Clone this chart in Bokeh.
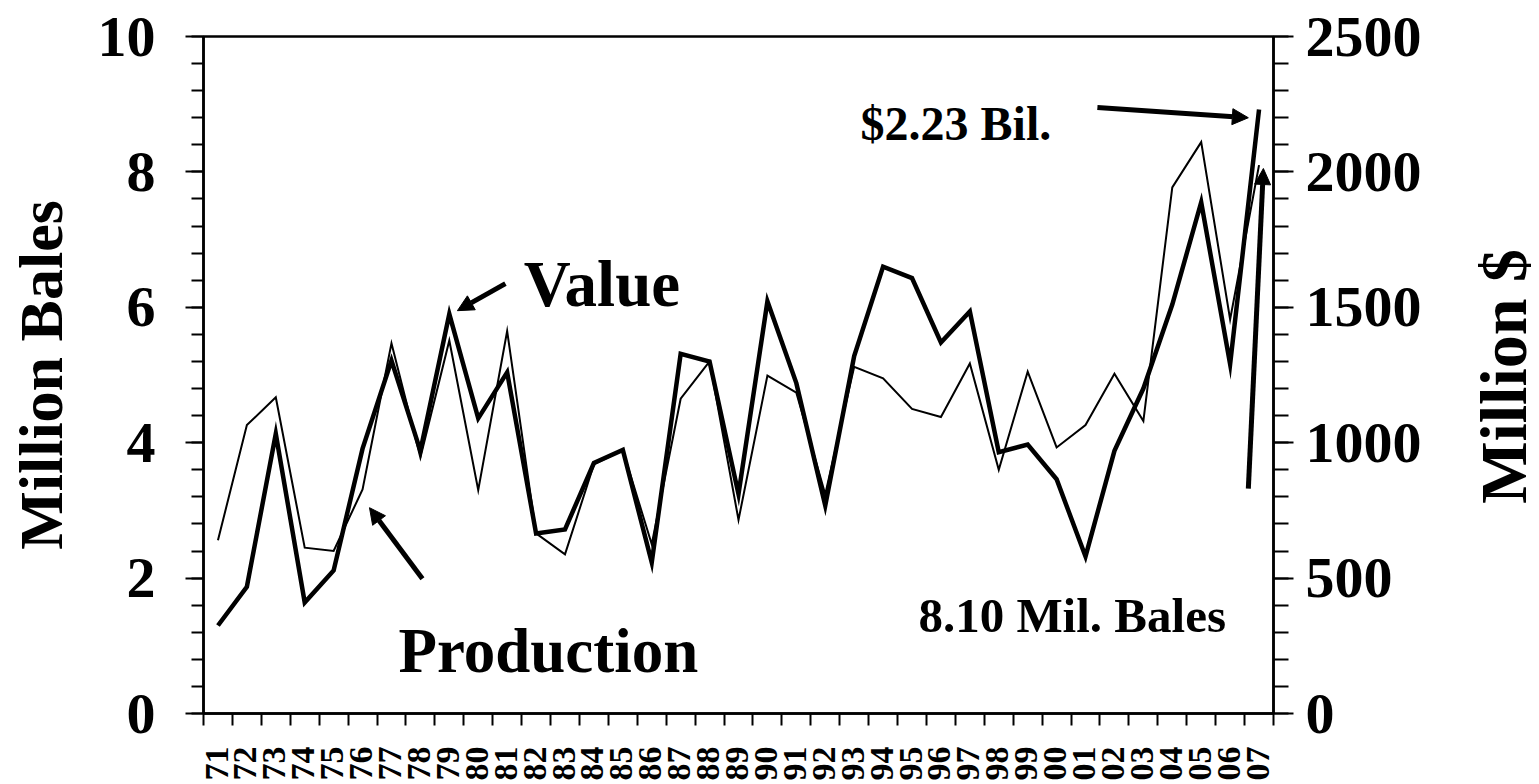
import math
from bokeh.plotting import figure
from bokeh.layouts import row
from bokeh.models import (Range1d, LinearAxis, FixedTicker, CustomJSTickFormatter,
                          Label, Arrow, NormalHead, ColumnDataSource, Div)
from bokeh.embed import file_html
from bokeh.resources import INLINE

# ---------------- data ----------------
years = ["71", "72", "73", "74", "75", "76", "77", "78", "79", "80",
         "81", "82", "83", "84", "85", "86", "87", "88", "89", "90",
         "91", "92", "93", "94", "95", "96", "97", "98", "99", "00",
         "01", "02", "03", "04", "05", "06", "07"]

# Production, million bales (left axis)
production = [2.56, 4.26, 4.67, 2.45, 2.40, 3.31, 5.47, 3.78, 5.51, 3.30,
              5.65, 2.66, 2.35, 3.68, 3.89, 2.50, 4.65, 5.20, 2.86, 4.99,
              4.74, 3.24, 5.12, 4.95, 4.50, 4.38, 5.17, 3.60, 5.05, 3.93,
              4.26, 5.02, 4.32, 7.77, 8.44, 5.82, 8.10]

# Value, million dollars (right axis)
value = [325, 468, 1033, 410, 528, 978, 1303, 970, 1475, 1090,
         1260, 665, 680, 925, 973, 558, 1328, 1300, 810, 1522,
         1220, 768, 1320, 1650, 1608, 1370, 1485, 965, 993, 865,
         580, 970, 1200, 1510, 1888, 1290, 2230]

left_ticks = [0, 2, 4, 6, 8, 10]
right_ticks = [0, 500, 1000, 1500, 2000, 2500]

FONT = "Liberation Serif"

n = len(years)
xc = [i + 0.5 for i in range(n)]
src = ColumnDataSource(dict(x=xc, prod=production, val=value, yr=years))

p = figure(width=1462, height=784, output_backend="svg", toolbar_location=None,
           x_range=Range1d(0, n), y_range=Range1d(0, 10),
           min_border_left=203, min_border_right=189,
           min_border_top=36, min_border_bottom=71)
p.extra_y_ranges = {"value": Range1d(0, 2500)}
p.grid.visible = False
p.outline_line_color = "black"
p.outline_line_width = 2.5
p.background_fill_color = "white"
p.border_fill_color = "white"

p.line("x", "prod", source=src, line_color="black", line_width=2, line_join="miter")
p.line("x", "val", source=src, y_range_name="value", line_color="black",
       line_width=4.5, line_join="miter")

# ---- x axis ----
xa = p.xaxis[0]
xa.ticker = FixedTicker(ticks=[i + 0.45 for i in range(n)],
                        minor_ticks=list(range(n + 1)))
xa.formatter = CustomJSTickFormatter(args=dict(labs=years),
                                     code="return labs[Math.floor(tick)] || '';")
xa.major_label_orientation = math.pi / 2
xa.major_tick_out = 0
xa.major_tick_in = 0
xa.minor_tick_out = 12
xa.minor_tick_in = 0
xa.minor_tick_line_width = 2
xa.minor_tick_line_color = "black"
xa.axis_line_width = 2.5
xa.axis_line_color = "black"
xa.major_label_standoff = 21
xa.major_label_text_font = FONT
xa.major_label_text_font_style = "bold"
xa.major_label_text_font_size = "34px"
xa.major_label_text_color = "black"

# ---- left axis ----
ya = p.yaxis[0]
ya.ticker = FixedTicker(ticks=left_ticks,
                        minor_ticks=[k * 0.4 for k in range(26)])
ya.axis_label = "Million Bales"
ya.axis_label_text_font = FONT
ya.axis_label_text_font_style = "bold"
ya.axis_label_text_font_size = "62px"
ya.axis_label_text_color = "black"
ya.axis_label_standoff = 20
ya.major_label_text_font = FONT
ya.major_label_text_font_style = "bold"
ya.major_label_text_font_size = "58px"
ya.major_label_text_color = "black"
ya.major_label_standoff = 30
ya.major_tick_out = 18
ya.major_tick_in = 0
ya.minor_tick_out = 12
ya.minor_tick_in = 0
ya.major_tick_line_width = 2
ya.minor_tick_line_width = 2
ya.axis_line_width = 2.5

# ---- right axis ----
ra = LinearAxis(y_range_name="value")
ra.ticker = FixedTicker(ticks=right_ticks, minor_ticks=list(range(0, 2501, 100)))
ra.major_label_text_font = FONT
ra.major_label_text_font_style = "bold"
ra.major_label_text_font_size = "58px"
ra.major_label_text_color = "black"
ra.major_label_standoff = 12
ra.major_tick_out = 20
ra.major_tick_in = 0
ra.minor_tick_out = 15
ra.minor_tick_in = 0
ra.major_tick_line_width = 2
ra.minor_tick_line_width = 2
ra.axis_line_width = 2.5
p.add_layout(ra, "right")

# ---- annotations ----
def lab(text, x, y, size):
    p.add_layout(Label(x=x, y=y, text=text, text_font=FONT, text_font_style="bold",
                       text_font_size=size, text_color="black",
                       text_align="left", text_baseline="alphabetic"))

def arr(x0, y0, x1, y1):
    p.add_layout(Arrow(end=NormalHead(size=16, fill_color="black", line_color="black"),
                       x_start=x0, y_start=y0, x_end=x1, y_end=y1,
                       line_width=5, line_color="black"))

lab("Value", 11.07, 6.34, "65px")
arr(10.44, 6.35, 8.78, 5.95)
lab("Production", 6.74, 0.93, "63px")
arr(7.57, 1.99, 5.74, 3.04)
lab("$2.23 Bil.", 22.72, 8.71, "48px")
arr(30.91, 8.95, 36.13, 8.80)
lab("8.10 Mil. Bales", 24.72, 1.45, "49px")
arr(36.13, 3.32, 36.65, 8.05)

# right axis title: reads bottom-to-top, beside the right axis
right_title = Div(
    text=('<div style="display:inline-block; writing-mode:vertical-rl; '
          'transform:rotate(180deg); margin-top:244px; margin-left:4px; '
          'line-height:66px; font-family:\'Liberation Serif\'; font-weight:bold; '
          'font-size:66px; color:black; white-space:nowrap;">Million $</div>'),
    width=74, height=784)

layout = row(p, right_title)
open("out.html", "w").write(file_html(layout, INLINE))
